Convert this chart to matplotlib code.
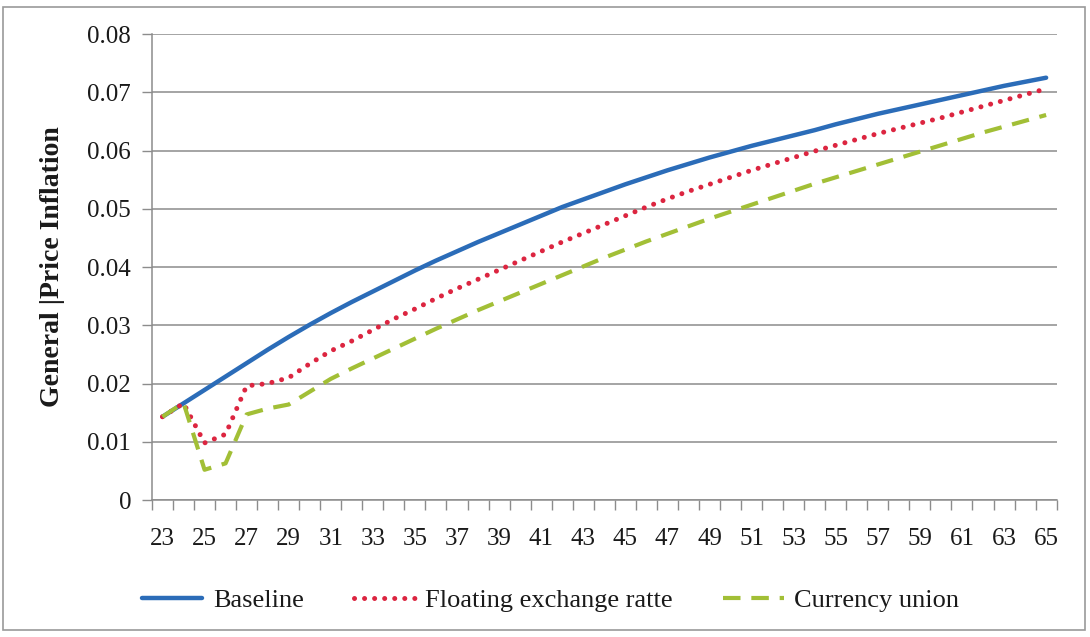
import matplotlib
matplotlib.use("Agg")
import matplotlib.pyplot as plt
import numpy as np
from matplotlib.patches import Rectangle

# ages on the category axis
ages = list(range(23, 66))

baseline = [0.0143, 0.0166, 0.0189, 0.0212, 0.0235, 0.0258, 0.0280, 0.0301,
            0.0321, 0.0340, 0.0358, 0.0376, 0.0394, 0.0411, 0.0427, 0.0443,
            0.0458, 0.0473, 0.0488, 0.0503, 0.0516, 0.0529, 0.0542, 0.0554,
            0.0566, 0.0577, 0.0588, 0.0598, 0.0608, 0.0617, 0.0626, 0.0635,
            0.0645, 0.0654, 0.0663, 0.0671, 0.0679, 0.0687, 0.0695, 0.0703,
            0.0711, 0.0718, 0.0725]

floating = [0.0143, 0.0166, 0.0098, 0.0113, 0.0196, 0.0200, 0.0210, 0.0234,
            0.0256, 0.0273, 0.0292, 0.0311, 0.0328, 0.0346, 0.0363, 0.0379,
            0.0395, 0.0411, 0.0427, 0.0443, 0.0458, 0.0473, 0.0488, 0.0503,
            0.0517, 0.0530, 0.0542, 0.0554, 0.0566, 0.0577, 0.0588, 0.0599,
            0.0609, 0.0619, 0.0629, 0.0638, 0.0647, 0.0656, 0.0666, 0.0676,
            0.0686, 0.0696, 0.0706]

currency = [0.0143, 0.0167, 0.0052, 0.0063, 0.0147, 0.0157, 0.0164, 0.0186,
            0.0208, 0.0226, 0.0243, 0.0260, 0.0277, 0.0294, 0.0310, 0.0326,
            0.0341, 0.0356, 0.0371, 0.0386, 0.0401, 0.0416, 0.0430, 0.0444,
            0.0457, 0.0470, 0.0483, 0.0495, 0.0507, 0.0519, 0.0531, 0.0543,
            0.0554, 0.0565, 0.0576, 0.0587, 0.0598, 0.0609, 0.0620, 0.0631,
            0.0641, 0.0651, 0.0661]

series_names = ["Baseline", "Floating exchange ratte", "Currency union"]
yticks = [0, 0.01, 0.02, 0.03, 0.04, 0.05, 0.06, 0.07, 0.08]
ytick_labels = ["0", "0.01", "0.02", "0.03", "0.04", "0.05", "0.06", "0.07", "0.08"]

serif = ["Liberation Serif", "DejaVu Serif"]
txt = "#1a1a1a"
grid_c = "#8c8c8c"

fig = plt.figure(figsize=(10.9, 6.37), dpi=100)
fig.patch.set_facecolor("white")
# chart area border
fig.patches.append(Rectangle((0.003, 0.011), 0.992, 0.978, transform=fig.transFigure,
                             fill=False, edgecolor="#9a9a9a", linewidth=1.2))

ax = fig.add_axes([0.1394, 0.215, 0.830, 0.7316])
x = np.arange(len(ages))

ax.plot(x, baseline, color="#2b6cb8", linewidth=3.2, solid_capstyle="round",
        label=series_names[0], zorder=3)
ax.plot(x, floating, color="#dc2540", linewidth=3.6, linestyle=(0, (0.01, 2.0)),
        dash_capstyle="round", label=series_names[1], zorder=4)
ax.plot(x, currency, color="#a2bf36", linewidth=3.0, linestyle=(0, (4.2, 2.6)),
        label=series_names[2], zorder=5)

ax.set_xlim(-0.5, len(ages) - 0.5)
ax.set_ylim(0, 0.08)

ax.set_yticks(yticks)
ax.set_yticklabels(ytick_labels, fontfamily=serif, fontsize=18, color=txt)
ax.yaxis.grid(True, color=grid_c, linewidth=1.1)
ax.tick_params(axis="y", length=7, width=1.0, color=grid_c, pad=8)

# labels on every other age, tick marks between categories
ax.set_xticks(x[::2])
ax.set_xticklabels([str(a) for a in ages[::2]], fontfamily=serif, fontsize=18, color=txt)
ax.tick_params(axis="x", which="major", length=0, pad=20)
ax.set_xticks(np.arange(-0.5, len(ages)), minor=True)
ax.tick_params(axis="x", which="minor", length=7, width=1.0, color=grid_c)

for s in ["top", "right"]:
    ax.spines[s].set_visible(False)
ax.spines["left"].set_color(grid_c)
ax.spines["bottom"].set_color(grid_c)
ax.spines["left"].set_linewidth(1.1)
ax.spines["bottom"].set_linewidth(1.1)
ax.set_axisbelow(True)

ax.set_ylabel("General |Price Inflation", fontfamily=serif, fontsize=20,
              fontweight="bold", color=txt, labelpad=16)

leg = fig.legend(loc="center", bbox_to_anchor=(0.505, 0.058), ncol=3, frameon=False,
                 prop={"family": serif, "size": 19}, handlelength=2.3,
                 columnspacing=1.9, handletextpad=0.4)
for t in leg.get_texts():
    t.set_color(txt)

fig.savefig("out.png", dpi=100, facecolor="white")
